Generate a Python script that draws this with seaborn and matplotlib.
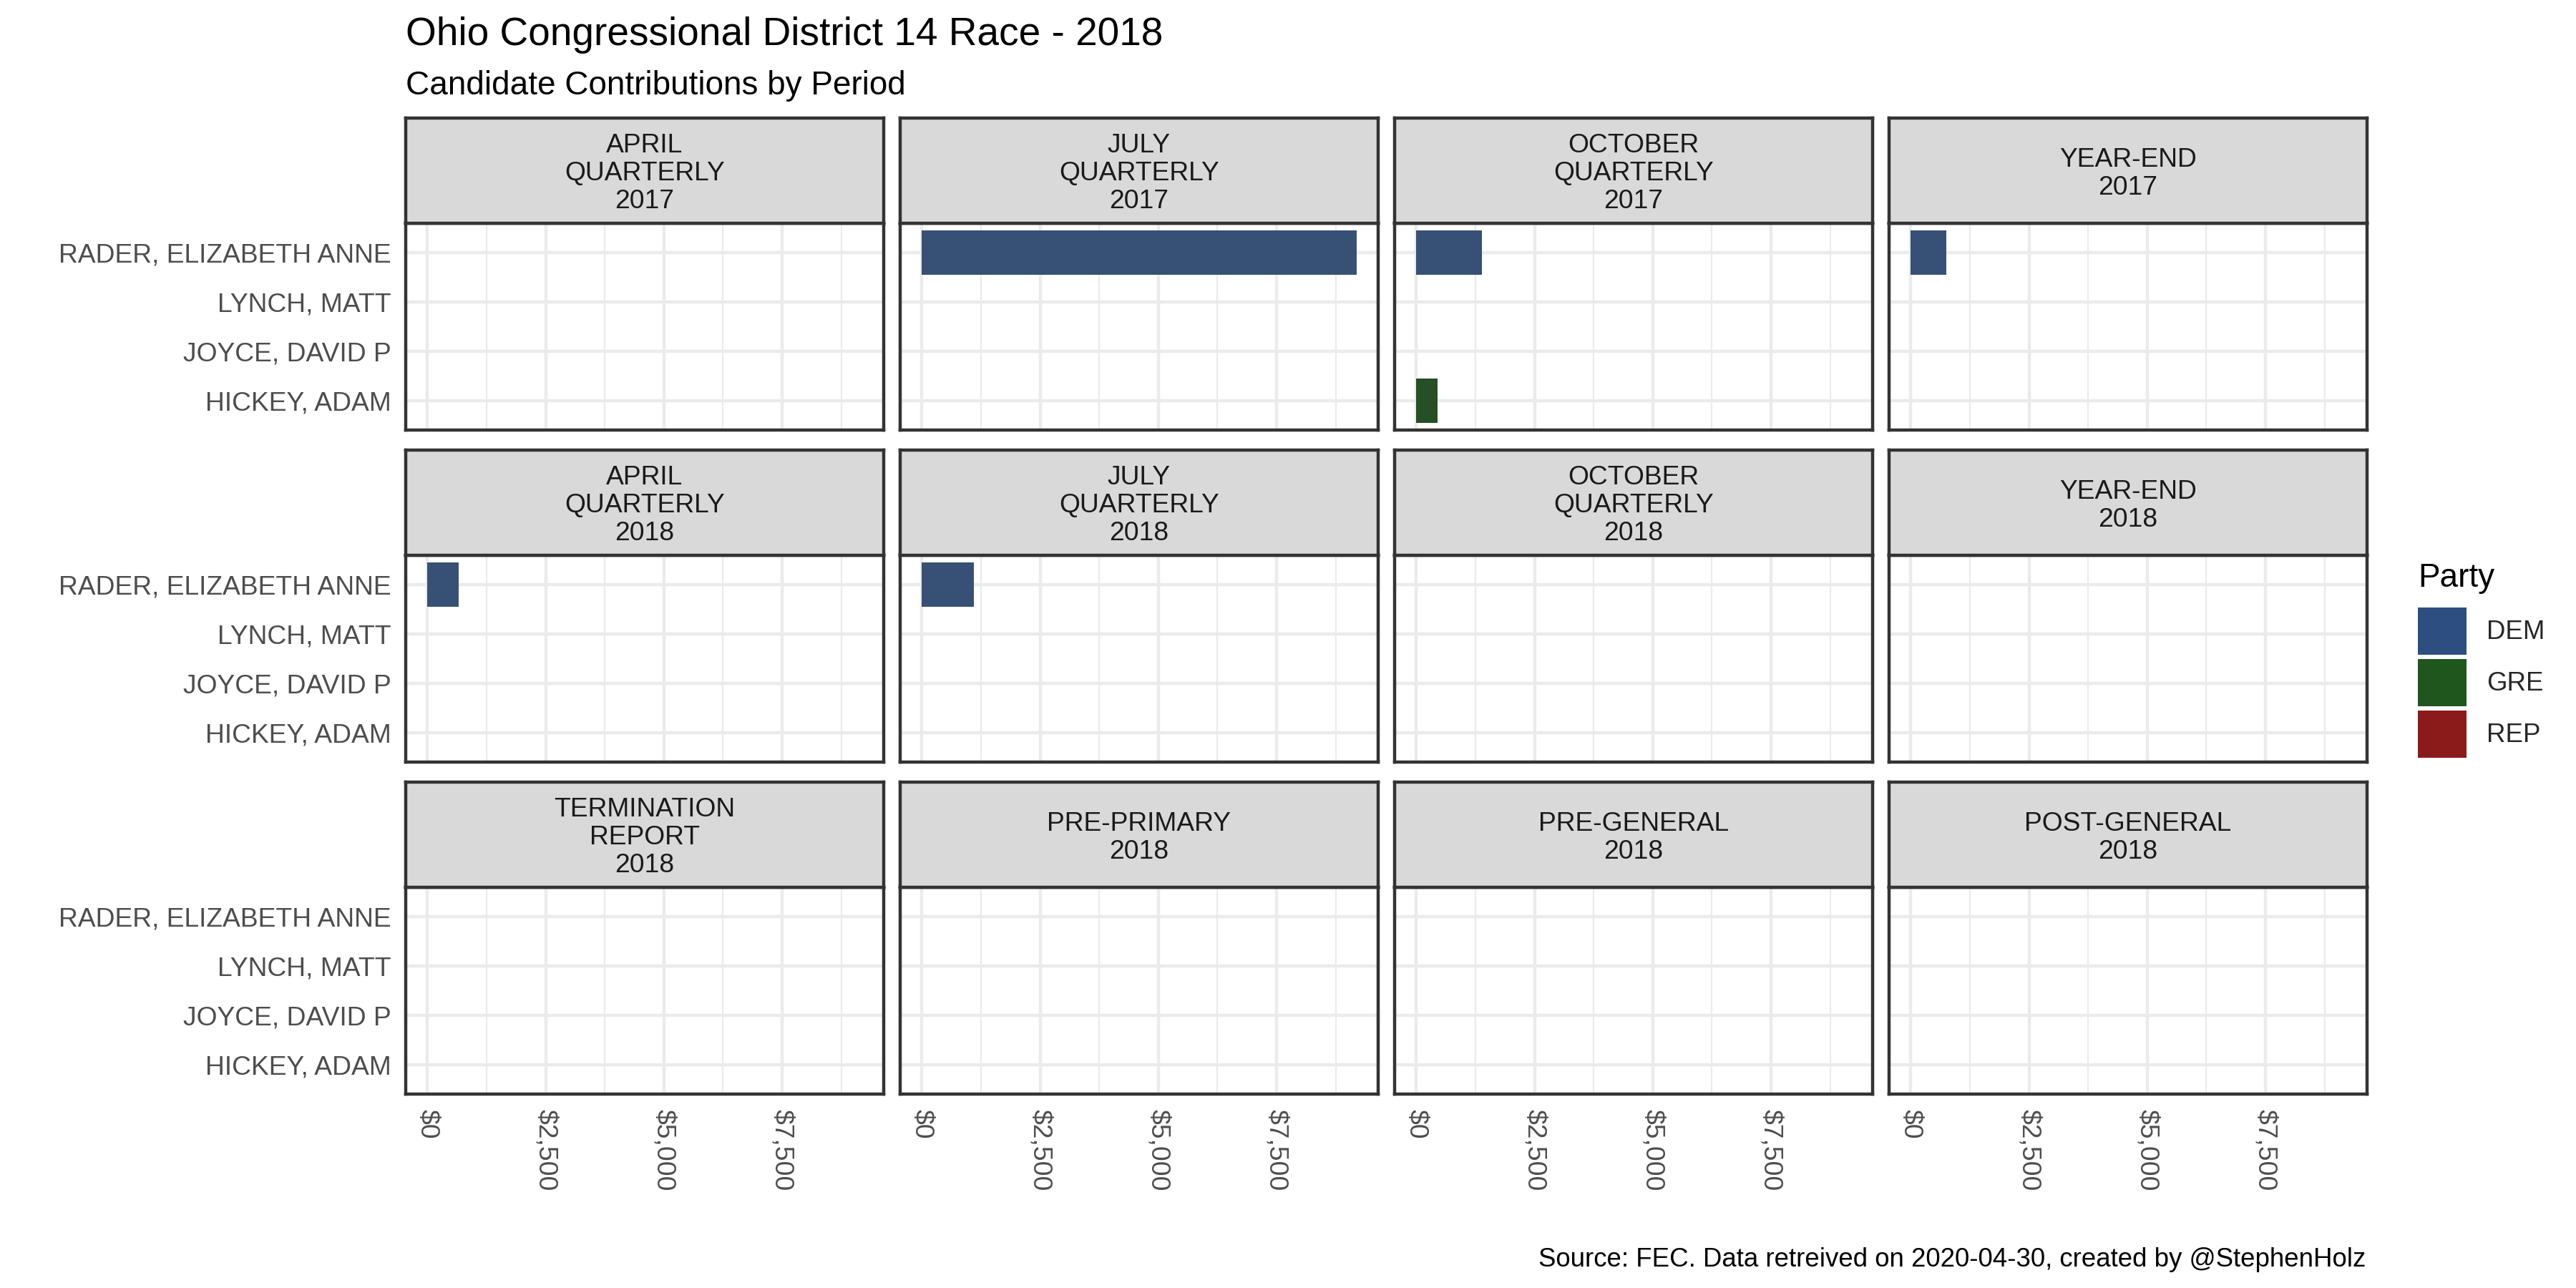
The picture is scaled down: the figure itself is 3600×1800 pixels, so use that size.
import numpy as np
import pandas as pd
import seaborn as sns
import matplotlib.pyplot as plt
from matplotlib.patches import Patch
from matplotlib.ticker import FuncFormatter, MultipleLocator

# reporting periods (facet order)
periods = ["APRIL\nQUARTERLY\n2017", "JULY\nQUARTERLY\n2017", "OCTOBER\nQUARTERLY\n2017", "YEAR-END\n2017",
           "APRIL\nQUARTERLY\n2018", "JULY\nQUARTERLY\n2018", "OCTOBER\nQUARTERLY\n2018", "YEAR-END\n2018",
           "TERMINATION\nREPORT\n2018", "PRE-PRIMARY\n2018", "PRE-GENERAL\n2018", "POST-GENERAL\n2018"]

candidates = ["RADER, ELIZABETH ANNE", "LYNCH, MATT", "JOYCE, DAVID P", "HICKEY, ADAM"]
cand_party = ["DEM", "REP", "REP", "GRE"]

# contributions per period, one list per candidate
rader = [0, 9190, 1390, 755, 665, 1105, 0, 0, 0, 0, 0, 0]
lynch = [0, 0, 0, 0, 0, 0, 0, 0, 0, 0, 0, 0]
joyce = [0, 0, 0, 0, 0, 0, 0, 0, 0, 0, 0, 0]
hickey = [0, 0, 455, 0, 0, 0, 0, 0, 0, 0, 0, 0]

parties = ["DEM", "GRE", "REP"]
party_colors = {"DEM": "#2C4E80", "GRE": "#1E561E", "REP": "#8B1A1A"}

rows = []
for name, party, vals in zip(candidates, cand_party, [rader, lynch, joyce, hickey]):
    for p, v in zip(periods, vals):
        rows.append({"period": p, "candidate": name, "party": party, "amount": v})
df = pd.DataFrame(rows)

sns.set_style("white")
plt.rcParams['font.family'] = ['Liberation Sans', 'DejaVu Sans']

W, H = 3600, 1800
fig = plt.figure(figsize=(12, 6), dpi=300)


def rect(x0, top, w, h):
    return [x0 / W, 1 - (top + h) / H, w / W, h / H]


col_left = [567, 1258, 1949, 2640]
panel_w = 668
panel_top = [312, 776, 1240]
panel_h = 289
strip_h = 147

xmax = df["amount"].max()
dark = "#333333"
lw = 1.07
small = 8.95

for i, p in enumerate(periods):
    r, c = divmod(i, 4)
    ax = fig.add_axes(rect(col_left[c], panel_top[r], panel_w, panel_h))
    sub = df[df["period"] == p]
    sns.barplot(data=sub, x="amount", y="candidate", hue="party", order=candidates,
                hue_order=parties, palette=party_colors, orient="h", dodge=False,
                width=0.9, errorbar=None, linewidth=0, legend=False, ax=ax)
    ax.set_xlim(-0.05 * xmax, 1.05 * xmax)
    ax.set_ylim(3.6, -0.6)
    ax.xaxis.set_major_locator(MultipleLocator(2500))
    ax.xaxis.set_minor_locator(MultipleLocator(1250))
    ax.xaxis.set_major_formatter(FuncFormatter(lambda v, pos: "${:,.0f}".format(v)))
    ax.set_axisbelow(True)
    ax.grid(which="major", axis="both", color="#EBEBEB", lw=lw)
    ax.grid(which="minor", axis="x", color="#EBEBEB", lw=lw / 2)
    ax.set_xlabel("")
    ax.set_ylabel("")
    for s in ax.spines.values():
        s.set_color(dark)
        s.set_linewidth(lw)
    ax.tick_params(axis="both", which="major", length=2.75, width=lw, color=dark,
                   pad=2.2, labelsize=small, labelcolor="#4D4D4D")
    ax.tick_params(axis="x", which="minor", length=0)
    ax.tick_params(axis="x", labelrotation=-90)
    for lab in ax.get_xticklabels():
        lab.set_va("top")
        lab.set_ha("center")
    if r < 2:
        ax.tick_params(axis="x", which="major", length=0, labelbottom=False)
    if c > 0:
        ax.tick_params(axis="y", length=0, labelleft=False)

    # facet strip
    sax = fig.add_axes(rect(col_left[c], panel_top[r] - strip_h, panel_w, strip_h))
    sax.set_facecolor("#D9D9D9")
    sax.set_xticks([])
    sax.set_yticks([])
    for s in sax.spines.values():
        s.set_color(dark)
        s.set_linewidth(lw)
    sax.text(0.5, 0.47, p, ha="center", va="center", fontsize=small, color="#1A1A1A",
             linespacing=1.15, transform=sax.transAxes)

fig.text(567 / W, 1 - 63 / H, "Ohio Congressional District 14 Race - 2018",
         fontsize=13.2, color="black", va="baseline", ha="left")
fig.text(567 / W, 1 - 132 / H, "Candidate Contributions by Period",
         fontsize=11, color="black", va="baseline", ha="left")
fig.text(3306 / W, 1 - 1770 / H, "Source: FEC. Data retreived on 2020-04-30, created by @StephenHolz",
         fontsize=8.8, color="black", va="baseline", ha="right")

# legend
fig.text(3379 / W, 1 - 820 / H, "Party", fontsize=11, color="black", va="baseline", ha="left")
handles = [Patch(facecolor=party_colors[k], edgecolor="none") for k in parties]
leg = fig.legend(handles, parties, loc="upper left",
                 bbox_to_anchor=(3379 / W, 1 - 849 / H), frameon=False,
                 borderpad=0, borderaxespad=0, fontsize=8.8,
                 handlelength=1.85, handleheight=2.39, labelspacing=0.16,
                 handletextpad=0.76)

fig.savefig("out.png", dpi=300)
